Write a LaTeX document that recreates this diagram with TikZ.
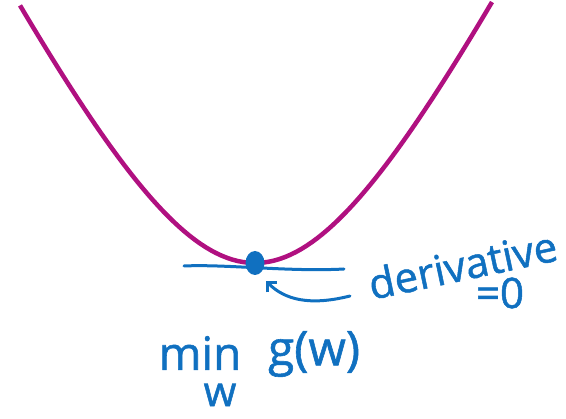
\documentclass[tikz,border=0pt]{standalone}
\usepackage{fontspec}
\setmainfont{Open Sans}
\newfontfamily\inkfont[FakeBold=1.2]{Open Sans}
\usetikzlibrary{arrows.meta, positioning, shapes.geometric}
\definecolor{curvecol}{RGB}{176,16,128}
\definecolor{inkblue}{RGB}{16,112,192}

\begin{document}
\begin{tikzpicture}[x=1pt, y=-1pt,
  ink/.style={inkblue, line width=3pt, line cap=round, line join=round},
  hand/.style={inkblue, inner sep=0pt, font=\inkfont\fontsize{42}{48}\selectfont}]
  \useasboundingbox (0,0) rectangle (566,419);
  % cost function
  \draw[curvecol, line width=4.5pt, domain=-235:237, samples=90] plot ({255+\x}, {263-300*(sqrt(1+(\x/150)^2)-1)});
  % minimum and flat tangent
  \node[ellipse, fill=inkblue, minimum width=19pt, minimum height=24pt, inner sep=0pt] (wmin) at (255,263) {};
  \coordinate (tl) at (184,266);
  \coordinate (tr) at (344,269);
  \draw[ink] (tl) .. controls (225,264) and (290,272) .. (tr);
  % labels
  \node[hand, rotate=12, anchor=base west] (deriv) at (372,300) {derivative};
  \node[hand] (zero) at (500,293) {=0};
  \node[hand, font=\inkfont\fontsize{46}{48}\selectfont] (minlbl) at (200,353) {min};
  \node[hand] (wlbl) at (220,395) {w};
  \node[hand, font=\inkfont\fontsize{48}{52}\selectfont] (glbl) at (314,354) {g(w)};
  % pointer to the minimum
  \coordinate (tail) at (350,296);
  \coordinate (tip) at (266,281);
  \draw[ink, -{Straight Barb[length=7pt, width=14pt]}] (tail) .. controls (310,306) and (285,300) .. (tip);
\end{tikzpicture}
\end{document}
